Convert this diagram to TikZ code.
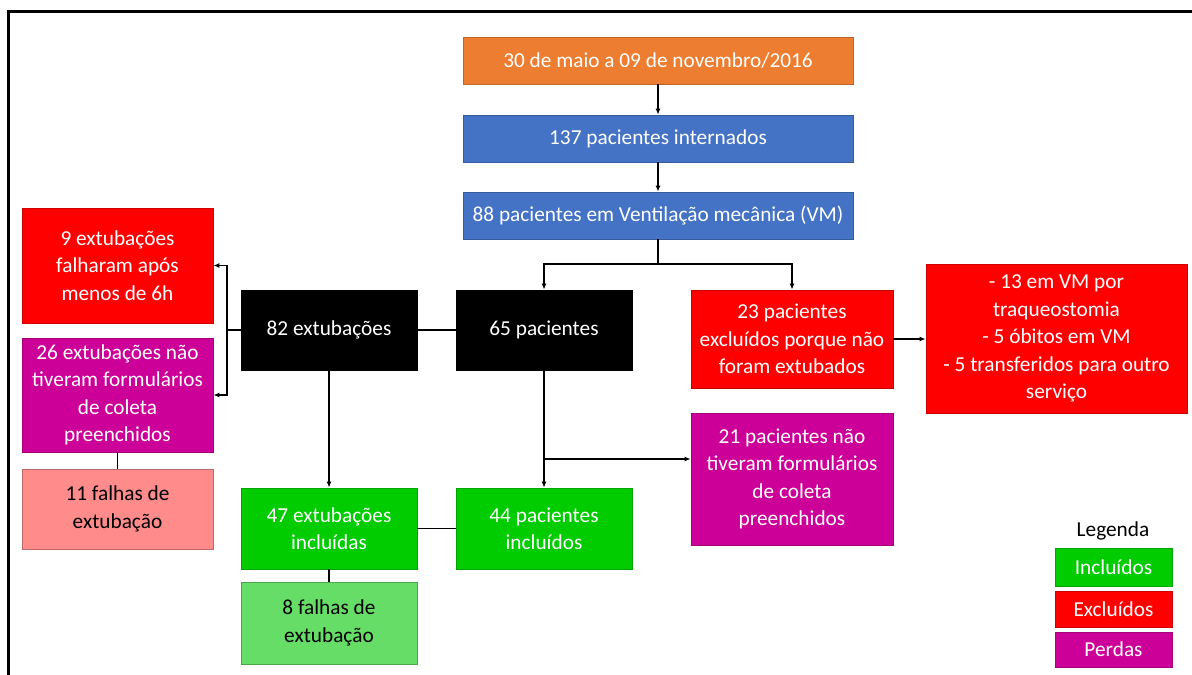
\documentclass[tikz,border=0pt]{standalone}
\usepackage{fontspec}
\setmainfont{Carlito}
\usetikzlibrary{arrows.meta}

\definecolor{laranja}{HTML}{ED7D31}
\definecolor{azul}{HTML}{4472C4}
\definecolor{vermelho}{HTML}{FF0000}
\definecolor{roxo}{HTML}{CC0099}
\definecolor{rosa}{HTML}{FF8B8B}
\definecolor{verde}{HTML}{00CC00}
\definecolor{verdeclaro}{HTML}{66DD66}

\tikzset{
  caixa/.style={
    draw=#1!80!black,fill=#1,line width=0.8pt,text=white,align=center,
    inner sep=0pt,font=\fontsize{21.3}{27.5}\selectfont,
  },
  caixaclara/.style={
    draw=#1!75!black,fill=#1,line width=0.8pt,text=black,align=center,
    inner sep=0pt,font=\fontsize{21.3}{27.5}\selectfont,
  },
  seta/.style={-{Latex[length=6pt,width=5pt]},line width=1.3pt},
  liga/.style={line width=1.3pt},
}

\begin{document}
\begin{tikzpicture}[x=1pt,y=-1pt]
    \useasboundingbox (0,0) rectangle (1192,675);
    \draw[line width=3pt] (8,675) -- (8,11) -- (1192,11);

    \node[caixa=laranja,minimum width=390pt,minimum height=47pt] (periodo) at (658,60.5) {30 de maio a 09 de novembro/2016};
    \node[caixa=azul,minimum width=390pt,minimum height=47pt] (internados) at (658,138.5) {137 pacientes internados};
    \node[caixa=azul,minimum width=390pt,minimum height=47pt] (vm) at (658,215.5) {88 pacientes em Ventilação mecânica (VM)};

    \node[caixa=vermelho,minimum width=191pt,minimum height=115pt] (falha6h) at (117.5,265.5) {9 extubações\\falharam após\\menos de 6h};
    \node[caixa=roxo,minimum width=191pt,minimum height=114pt] (perdaext) at (117.5,395) {26 extubações não\\tiveram formulários\\de coleta\\preenchidos};
    \node[caixaclara=rosa,minimum width=191pt,minimum height=80pt] (falhaext) at (117.5,509) {11 falhas de\\extubação};

    \node[caixa=black,minimum width=176pt,minimum height=80pt] (ext82) at (329,330) {82 extubações};
    \node[caixa=black,minimum width=176pt,minimum height=80pt] (pac65) at (544,330) {65 pacientes};
    \node[caixa=vermelho,minimum width=202pt,minimum height=98pt] (exc23) at (792,339) {23 pacientes\\excluídos porque não\\foram extubados};
    \node[caixa=vermelho,minimum width=261pt,minimum height=149pt] (motivos) at (1056.5,338.5) {- 13 em VM por\\traqueostomia\\- 5 óbitos em VM\\- 5 transferidos para outro\\serviço};
    \node[caixa=roxo,minimum width=202pt,minimum height=132pt] (perdapac) at (792,479) {21 pacientes não\\tiveram formulários\\de coleta\\preenchidos};

    \node[caixa=verde,minimum width=176pt,minimum height=81pt] (ext47) at (329,528.5) {47 extubações\\incluídas};
    \node[caixa=verde,minimum width=176pt,minimum height=81pt] (pac44) at (544,528.5) {44 pacientes\\incluídos};
    \node[caixaclara=verdeclaro,minimum width=176pt,minimum height=82pt] (falha8) at (329,623) {8 falhas de\\extubação};

    % legenda
    \node[font=\fontsize{21.3}{24}\selectfont] (legenda) at (1113,531) {Legenda};
    \node[caixa=verde,minimum width=117pt,minimum height=38pt] (leginc) at (1113.5,567) {Incluídos};
    \node[caixa=vermelho,minimum width=117pt,minimum height=36pt] (legexc) at (1113.5,609) {Excluídos};
    \node[caixa=roxo,minimum width=117pt,minimum height=35pt] (legper) at (1113.5,649.5) {Perdas};

    % conexoes
    \coordinate (divide) at (658,264);
    \coordinate (esq) at (227,330);
    \coordinate (ramo) at (544,459);

    \draw[seta] (periodo) -- (internados);
    \draw[seta] (internados) -- (vm);
    \draw[liga] (vm) -- (divide);
    \draw[seta] (divide) -| (pac65);
    \draw[seta] (divide) -| (exc23);
    \draw[seta] (exc23) -- (exc23 -| motivos.west);

    \draw[liga] (ext82) -- (pac65);
    \draw[liga] (ext82) -- (esq);
    \draw[seta] (esq) |- (falha6h);
    \draw[seta] (esq) |- (perdaext);
    \draw[liga] (perdaext) -- (falhaext);

    \draw[seta] (ext82) -- (ext47);
    \draw[seta] (pac65) -- (pac44);
    \draw[seta] (ramo) -- (perdapac.west |- ramo);
    \draw[liga] (ext47) -- (pac44);
    \draw[liga] (ext47) -- (falha8);
\end{tikzpicture}
\end{document}
